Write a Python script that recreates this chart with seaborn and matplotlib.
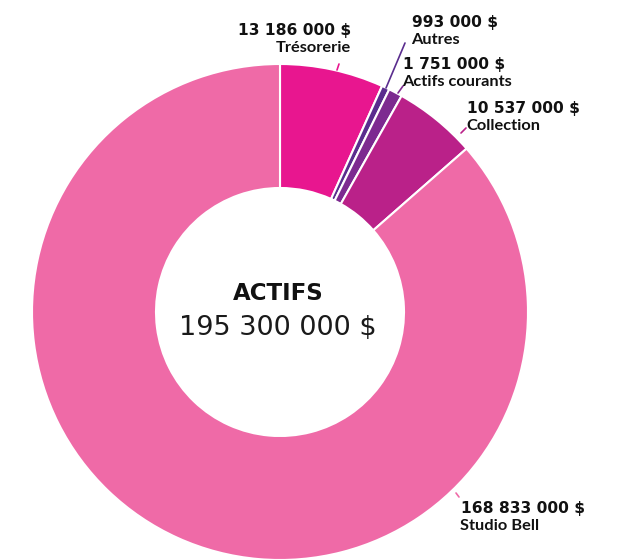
import numpy as np
import seaborn as sns
import matplotlib.pyplot as plt

# Data
categories = ["Trésorerie", "Autres", "Actifs courants", "Collection", "Studio Bell"]
values = [13186000, 993000, 1751000, 10537000, 168833000]
value_labels = ["13 186 000 $", "993 000 $", "1 751 000 $", "10 537 000 $", "168 833 000 $"]
colors = ["#E8168F", "#5A2D8E", "#7D2A90", "#BA2189", "#EF6AA7"]

sns.set_style("white")
plt.rcParams["font.family"] = ["DejaVu Sans"]

W, H = 625, 560
fig = plt.figure(figsize=(W / 100, H / 100), dpi=100)
ax = fig.add_axes([0, 0, 1, 1])

# Donut
cx, cy = 280, H - 312
r_out, r_in = 248, 124
wedges, _ = ax.pie(values, colors=colors, startangle=90, counterclock=False,
                   center=(cx, cy), radius=r_out,
                   wedgeprops=dict(width=r_out - r_in, edgecolor="white", linewidth=1.5))

ax.set_xlim(0, W)
ax.set_ylim(0, H)
ax.set_aspect("equal")
ax.axis("off")

# Leader lines: (x0, y0, x1, y1) in pixel coordinates from top
leaders = [(337, 70, 339, 64), (386, 88, 405, 43), (398, 93, 403, 86),
           (461, 133, 466, 128), (456, 493, 459, 497)]
# Label anchors: (x, y of value line, alignment)
anchors = [(351, 30, "right"), (412, 22, "left"), (403, 64, "left"),
           (467, 108, "left"), (461, 508, "left")]

for i, cat in enumerate(categories):
    x0, y0, x1, y1 = leaders[i]
    ax.plot([x0, x1], [H - y0, H - y1], color=colors[i], lw=1.2)
    x, y, ha = anchors[i]
    ax.text(x, H - y, value_labels[i], ha=ha, va="center", fontsize=11.2,
            fontweight="bold", color="#111111")
    ax.text(x if ha == "right" else x - 1, H - y - 18, cat, ha=ha, va="center",
            fontsize=11.8, fontweight="bold", family="Lato", color="#111111")

# Center text
ax.text(cx - 2, H - 294, "ACTIFS", ha="center", va="center", fontsize=16.5,
        fontweight="bold", color="#111111")
ax.text(cx - 2, H - 328, "195 300 000 $", ha="center", va="center", fontsize=19.5,
        fontweight="normal", color="#1a1a1a")

fig.savefig("out.png", dpi=100)
